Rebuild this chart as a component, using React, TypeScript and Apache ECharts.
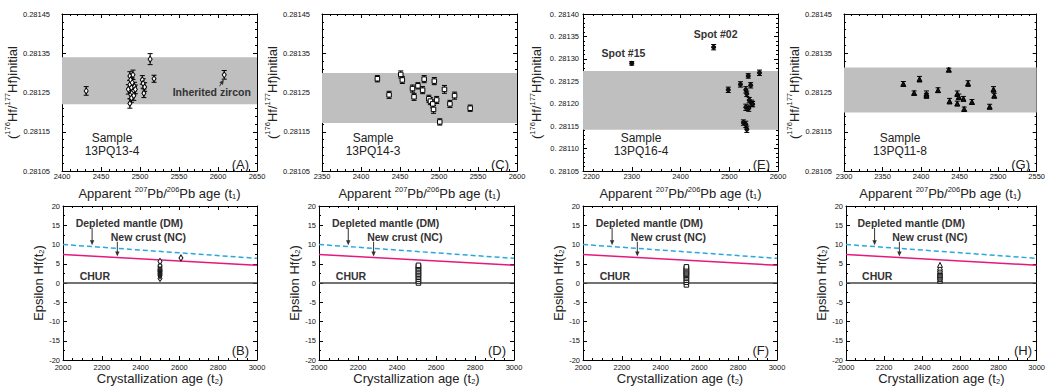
import React, { useEffect, useRef } from 'react';
import * as echarts from 'echarts';

const FONT = '"Liberation Sans", Arial, Helvetica, sans-serif';

// ---------- Panel A (13PQ13-4) ----------
const ageA = [2431, 2485, 2487, 2487, 2487, 2488, 2488, 2489, 2489, 2490, 2490, 2491, 2492, 2492, 2493, 2494, 2503, 2504, 2505, 2506, 2513, 2518, 2608];
const hfA = [0.281254, 0.281258, 0.281292, 0.281222, 0.28127, 0.281282, 0.281245, 0.281262, 0.281236, 0.281275, 0.28125, 0.281295, 0.281255, 0.281242, 0.281265, 0.281258, 0.281282, 0.281273, 0.281248, 0.281264, 0.281335, 0.281285, 0.281295];
const errA = [0.000011, 0.000012, 0.000011, 0.000012, 0.000011, 0.000012, 0.000011, 0.000012, 0.000011, 0.000012, 0.000011, 0.000012, 0.000011, 0.000012, 0.000011, 0.000011, 0.000011, 0.000012, 0.000011, 0.000011, 0.000014, 0.000009, 0.000011];
const bandA = [0.28122, 0.28134];

// ---------- Panel C (13PQ14-3) ----------
const ageC = [2421, 2436, 2451, 2453, 2466, 2468, 2473, 2479, 2481, 2487, 2489, 2492, 2493, 2494, 2497, 2501, 2507, 2514, 2520, 2540];
const hfC = [0.281285, 0.281244, 0.281296, 0.281282, 0.28126, 0.281239, 0.281267, 0.281256, 0.281284, 0.281234, 0.281228, 0.281221, 0.281207, 0.281279, 0.281231, 0.281175, 0.281258, 0.281221, 0.281242, 0.28121];
const errC = [0.000008, 0.000009, 0.000009, 0.000009, 0.000009, 0.000009, 0.000008, 0.000009, 0.000009, 0.000009, 0.000009, 0.00001, 0.00001, 0.000009, 0.000009, 0.000008, 0.00001, 0.000009, 0.000009, 0.000008];
const bandC = [0.281172, 0.2813];

// ---------- Panel E (13PQ16-4) ----------
const ageE = [2300, 2468, 2498, 2523, 2534, 2536, 2539, 2541, 2544, 2546, 2548, 2534, 2540, 2529, 2534, 2536, 2562];
const hfE = [0.28129, 0.281326, 0.281231, 0.281243, 0.281231, 0.281222, 0.281262, 0.281208, 0.281241, 0.281201, 0.281199, 0.281192, 0.28119, 0.281158, 0.281154, 0.281143, 0.281269];
const errE = [0.000004, 0.000006, 0.000006, 0.000006, 0.000007, 0.000006, 0.000005, 0.000006, 0.000006, 0.000007, 0.000006, 0.000007, 0.000007, 0.000006, 0.000007, 0.000007, 0.000006];
const bandE = [0.281142, 0.281273];

// ---------- Panel G (13PQ11-8) ----------
const ageG = [2377, 2391, 2398, 2407, 2407, 2422, 2437, 2436, 2447, 2447, 2449, 2455, 2456, 2461, 2466, 2489, 2494, 2495];
const hfG = [0.281272, 0.281249, 0.281284, 0.281247, 0.281242, 0.281256, 0.281228, 0.281308, 0.281247, 0.281222, 0.281239, 0.281234, 0.281208, 0.281273, 0.281226, 0.281214, 0.281258, 0.281242];
const errG = [0.000006, 0.000005, 0.000007, 0.000007, 0.000006, 0.000006, 0.000007, 0.000004, 0.000007, 0.000006, 0.000007, 0.000006, 0.000005, 0.000007, 0.000006, 0.000006, 0.000007, 0.000006];
const bandG = [0.281199, 0.281314];

// ---------- Epsilon Hf panels ----------
const t2B = [2500, 2500, 2500, 2500, 2500, 2500, 2500, 2500, 2500, 2500, 2500, 2500, 2500, 2608];
const epsB = [1.2, 1.9, 2.2, 2.5, 2.8, 3.0, 3.2, 3.4, 3.6, 3.9, 4.2, 4.6, 5.6, 6.5];
const t2D = [2510, 2510, 2510, 2510, 2510, 2510, 2510, 2510, 2510, 2510, 2510, 2510];
const epsD = [0.0, 0.5, 1.0, 1.5, 1.9, 2.3, 2.7, 3.1, 3.5, 3.9, 4.3, 4.6];
const t2F = [2533, 2533, 2533, 2533, 2533, 2533, 2533, 2533, 2533, 2533, 2533, 2533, 2533];
const epsF = [-0.5, 0.2, 0.7, 1.2, 1.6, 2.0, 2.3, 2.6, 2.9, 3.2, 3.5, 3.9, 4.2];
const t2H = [2493, 2493, 2493, 2493, 2493, 2493, 2493, 2493, 2493, 2493, 2493, 2493];
const epsH = [0.6, 1.0, 1.4, 1.7, 2.0, 2.2, 2.5, 2.8, 3.1, 3.5, 4.0, 4.7];

// reference evolution lines
const refAge = [2000, 3000];
const churEps = [0, 0];
const dmEps = [10, 6.4];
const ncEps = [7.4, 4.6];

// axis tick settings
const topXRange = [[2400, 2650, 50], [2350, 2600, 50], [2200, 2600, 100], [2300, 2550, 50]];
const topYRange = [[0.28105, 0.28145, 0.0001], [0.28105, 0.28145, 0.0001], [0.28105, 0.2814, 0.00005], [0.28105, 0.28145, 0.0001]];
const botXRange = [2000, 3000, 200];
const botYRange = [-20, 20, 5];

const letterTop = ['(A)', '(C)', '(E)', '(G)'];
const letterBot = ['(B)', '(D)', '(F)', '(H)'];
const samples = ['13PQ13-4', '13PQ14-3', '13PQ16-4', '13PQ11-8'];

const rich = {
  n: { fontSize: 13, fontFamily: FONT, color: '#222', lineHeight: 15, verticalAlign: 'bottom' },
  s: { fontSize: 7.5, fontFamily: FONT, color: '#222', lineHeight: 8, verticalAlign: 'top' },
  b: { fontSize: 7.5, fontFamily: FONT, color: '#222', lineHeight: 6, verticalAlign: 'bottom' },
};

const TOP_X_NAME = '{n|Apparent }{s|207}{n|Pb/}{s|206}{n|Pb age (t}{b|1}{n|)}';
const TOP_Y_NAME = '{n|(}{s|176}{n|Hf/}{s|177}{n|Hf)initial}';
const BOT_X_NAME = '{n|Crystallization age (t}{b|2}{n|)}';
const BOT_Y_NAME = '{n|Epsilon Hf(t}{b|2}{n|)}';

export default function App() {
  const ref = useRef<HTMLDivElement>(null);

  useEffect(() => {
    if (!ref.current) return;
    const chart = echarts.init(ref.current, undefined, { renderer: 'svg' });

    const topGrids = [
      { left: 62, top: 14, width: 195, height: 157 },
      { left: 322, top: 14, width: 195, height: 157 },
      { left: 583, top: 14, width: 195, height: 157 },
      { left: 844, top: 14, width: 194, height: 157 },
    ];
    const botGrids = [
      { left: 63, top: 206, width: 194, height: 154 },
      { left: 319, top: 206, width: 195, height: 154 },
      { left: 583, top: 206, width: 194, height: 154 },
      { left: 846, top: 206, width: 194, height: 154 },
    ];
    const grids = [...topGrids, ...botGrids];

    const line = { lineStyle: { color: '#000', width: 1 } };
    const xAxes: any[] = [];
    const yAxes: any[] = [];

    const makeX = (g: number, r: number[], minorSplit: number, labelMargin: number, name: string, nameGap: number, alignMin?: string) => {
      const base = {
        type: 'value', gridIndex: g, min: r[0], max: r[1], interval: r[2],
        axisLine: { show: true, onZero: false, ...line },
        axisTick: { show: true, inside: true, length: 4, ...line },
        minorTick: { show: true, splitNumber: minorSplit, length: 2, ...line },
        splitLine: { show: false },
      };
      xAxes.push({
        ...base, position: 'bottom',
        axisLabel: {
          fontSize: 7.5, color: '#111', fontFamily: FONT, margin: labelMargin,
          formatter: (v: number) => String(Math.round(v)),
          ...(alignMin ? { alignMinLabel: alignMin } : {}),
        },
        name, nameLocation: 'middle', nameGap,
        nameTextStyle: { fontFamily: FONT, fontSize: 13, color: '#222', rich },
      });
      xAxes.push({ ...base, position: 'top', axisLabel: { show: false } });
    };
    const makeY = (g: number, r: number[], minorSplit: number, labelMargin: number, fmt: (v: number) => string, name: string, nameGap: number) => {
      const base = {
        type: 'value', gridIndex: g, min: r[0], max: r[1], interval: r[2],
        axisLine: { show: true, onZero: false, ...line },
        axisTick: { show: true, inside: true, length: 4, ...line },
        minorTick: { show: true, splitNumber: minorSplit, length: 2, ...line },
        splitLine: { show: false },
      };
      yAxes.push({
        ...base, position: 'left',
        axisLabel: { fontSize: 7.5, color: '#111', fontFamily: FONT, margin: labelMargin, formatter: fmt },
        name, nameLocation: 'middle', nameGap, nameRotate: 90,
        nameTextStyle: { fontFamily: FONT, fontSize: 13, color: '#222', rich },
      });
      yAxes.push({ ...base, position: 'right', axisLabel: { show: false } });
    };

    for (let i = 0; i < 4; i++) {
      makeX(i, topXRange[i], 5, 1.5, TOP_X_NAME, 14, i === 2 ? 'left' : undefined);
      const fmt = i === 2
        ? (v: number) => '0. ' + v.toFixed(5).slice(2)
        : (v: number) => v.toFixed(5);
      makeY(i, topYRange[i], 5, i === 2 ? 4 : 12, fmt, TOP_Y_NAME, 40);
    }
    for (let i = 0; i < 4; i++) {
      makeX(4 + i, botXRange, 4, 3.5, BOT_X_NAME, 10);
      makeY(4 + i, botYRange, 2, 3, (v: number) => String(Math.round(v)), BOT_Y_NAME, 13);
    }

    const topData = [
      { ages: ageA, hf: hfA, err: errA, band: bandA, symbol: 'diamond', size: [4, 6], fill: '#fff' },
      { ages: ageC, hf: hfC, err: errC, band: bandC, symbol: 'rect', size: 4.5, fill: '#fff' },
      { ages: ageE, hf: hfE, err: errE, band: bandE, symbol: 'circle', size: 4, fill: '#111' },
      { ages: ageG, hf: hfG, err: errG, band: bandG, symbol: 'triangle', size: 5, fill: '#111' },
    ];
    const botData = [
      { t: t2B, e: epsB, symbol: 'diamond', size: [4, 6] },
      { t: t2D, e: epsD, symbol: 'rect', size: 4.5 },
      { t: t2F, e: epsF, symbol: 'rect', size: 4.5 },
      { t: t2H, e: epsH, symbol: 'triangle', size: 5 },
    ];

    const series: any[] = [];
    const pointSeriesIdx: number[] = [];

    topData.forEach((p, i) => {
      series.push({
        type: 'custom', xAxisIndex: 2 * i, yAxisIndex: 2 * i, z: 2,
        data: p.ages.map((a, k) => [a, p.hf[k], p.err[k]]),
        encode: { x: 0, y: 1 },
        renderItem: (params: any, api: any) => {
          const x = api.value(0), y = api.value(1), e = api.value(2);
          const lo = api.coord([x, y - e]);
          const hi = api.coord([x, y + e]);
          const w = 2.5;
          const style = { stroke: '#000', lineWidth: 1 };
          return {
            type: 'group', children: [
              { type: 'line', shape: { x1: lo[0], y1: lo[1], x2: hi[0], y2: hi[1] }, style },
              { type: 'line', shape: { x1: lo[0] - w, y1: lo[1], x2: lo[0] + w, y2: lo[1] }, style },
              { type: 'line', shape: { x1: hi[0] - w, y1: hi[1], x2: hi[0] + w, y2: hi[1] }, style },
            ],
          };
        },
      });
      pointSeriesIdx.push(series.length);
      series.push({
        type: 'scatter', xAxisIndex: 2 * i, yAxisIndex: 2 * i, z: 3,
        data: p.ages.map((a, k) => [a, p.hf[k]]),
        symbol: p.symbol, symbolSize: p.size,
        itemStyle: { color: p.fill, borderColor: '#000', borderWidth: 1, opacity: 1 },
        markArea: {
          silent: true, z: 1,
          itemStyle: { color: '#bfbfbf', opacity: 1 },
          data: [[{ yAxis: p.band[0] }, { yAxis: p.band[1] }]],
        },
      });
    });

    botData.forEach((p, i) => {
      const g = 4 + i;
      const mk = (ys: number[]) => refAge.map((a, k) => [a, ys[k]]);
      series.push({
        type: 'line', xAxisIndex: 2 * g, yAxisIndex: 2 * g, data: mk(churEps), symbol: 'none',
        lineStyle: { color: '#444', width: 1.5 }, z: 2,
      });
      series.push({
        type: 'line', xAxisIndex: 2 * g, yAxisIndex: 2 * g, data: mk(dmEps), symbol: 'none',
        lineStyle: { color: '#29a8e0', width: 1.5, type: [5, 3] }, z: 2,
      });
      series.push({
        type: 'line', xAxisIndex: 2 * g, yAxisIndex: 2 * g, data: mk(ncEps), symbol: 'none',
        lineStyle: { color: '#e4197c', width: 1.5 }, z: 2,
      });
      pointSeriesIdx.push(series.length);
      series.push({
        type: 'scatter', xAxisIndex: 2 * g, yAxisIndex: 2 * g, z: 3,
        data: p.t.map((a, k) => [a, p.e[k]]),
        symbol: p.symbol, symbolSize: p.size,
        itemStyle: { color: '#fff', borderColor: '#111', borderWidth: 1, opacity: 1 },
      });
    });

    chart.setOption({
      animation: false,
      backgroundColor: '#fff',
      grid: grids.map((g) => ({ ...g, containLabel: false })),
      xAxis: xAxes,
      yAxis: yAxes,
      series,
    });

    // ---------- annotations ----------
    const gfx: any[] = [];
    const txt = (x: number, y: number, text: string, opts: any = {}) => ({
      type: 'text', x, y, z: 100,
      style: {
        text, fontFamily: FONT, fontSize: 11, fill: '#222',
        align: 'center', verticalAlign: 'middle', ...opts,
      },
    });
    const arrow = (p1: number[], p2: number[], color = '#333') => {
      const dx = p2[0] - p1[0], dy = p2[1] - p1[1];
      const L = Math.hypot(dx, dy) || 1;
      const ux = dx / L, uy = dy / L;
      const hl = 5, hw = 2.2;
      const bx = p2[0] - ux * hl, by = p2[1] - uy * hl;
      return [
        { type: 'line', z: 100, shape: { x1: p1[0], y1: p1[1], x2: bx + ux, y2: by + uy }, style: { stroke: color, lineWidth: 1 } },
        { type: 'polygon', z: 100, shape: { points: [[p2[0], p2[1]], [bx - uy * hw, by + ux * hw], [bx + uy * hw, by - ux * hw]] }, style: { fill: color } },
      ];
    };
    const px = (si: number, v: number[]) => chart.convertToPixel({ seriesIndex: si }, v) as number[];

    topGrids.forEach((g, i) => {
      const sampleOffset = [50, 51, 58, 56][i];
      gfx.push(txt(g.left + sampleOffset, 144, 'Sample\n' + samples[i], { fontSize: 12, lineHeight: 13 }));
      gfx.push(txt(g.left + g.width - 8, 164, letterTop[i], { fontSize: 13, align: 'right' }));
    });
    botGrids.forEach((g, i) => {
      gfx.push(txt(g.left + g.width - 8, 350, letterBot[i], { fontSize: 13, align: 'right' }));
      const si = pointSeriesIdx[4 + i];
      const bold = { fontWeight: 'bold', fontSize: 10.5, fill: '#333' };
      const dm = px(si, [2342, 15.6]);
      gfx.push(txt(dm[0], dm[1], 'Depleted mantle (DM)', bold));
      gfx.push(...arrow(px(si, [2150, 14.3]), px(si, [2150, 9.8])));
      const nc = px(si, [2440, 11.9]);
      gfx.push(txt(nc[0], nc[1], 'New crust (NC)', bold));
      gfx.push(...arrow(px(si, [2280, 10.7]), px(si, [2280, 6.9])));
      const ch = px(si, [2164, 1.8]);
      gfx.push(txt(ch[0], ch[1], 'CHUR', bold));
    });

    const boldTop = { fontWeight: 'bold', fontSize: 10.5, fill: '#333' };
    const iz = px(pointSeriesIdx[0], [2592, 0.281252]);
    gfx.push(txt(iz[0], iz[1], 'Inherited zircon', boldTop));
    gfx.push(...arrow(px(pointSeriesIdx[0], [2602, 0.281266]), px(pointSeriesIdx[0], [2607.5, 0.281283])));
    const s15 = px(pointSeriesIdx[2], [2283, 0.281314]);
    gfx.push(txt(s15[0], s15[1], 'Spot #15', boldTop));
    const s02 = px(pointSeriesIdx[2], [2472, 0.281355]);
    gfx.push(txt(s02[0], s02[1], 'Spot #02', boldTop));

    chart.setOption({ graphic: { elements: gfx } });

    return () => chart.dispose();
  }, []);

  return (
    <div
      ref={ref}
      style={{ position: 'fixed', left: 0, top: 0, width: 1048, height: 389, background: '#fff' }}
    />
  );
}
